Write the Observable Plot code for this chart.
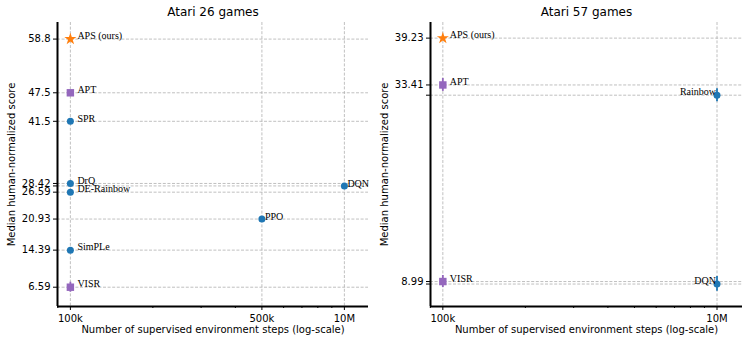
<!DOCTYPE html>
<html>
<head>
<meta charset="utf-8">
<script src="https://cdn.jsdelivr.net/npm/d3@7"></script>
<script src="https://cdn.jsdelivr.net/npm/@observablehq/plot@0.6"></script>
<style>
  body { margin: 0; background: #fff; }
  #wrap { display: flex; width: 748px; height: 344px; }
  #wrap svg { display: block; }
</style>
</head>
<body>
<div id="wrap"></div>
<script>
// ---------- Data: Atari 26 games ----------
const methods26 = ["APS (ours)", "APT", "SPR", "DrQ", "DE-Rainbow", "DQN", "PPO", "SimPLe", "VISR"];
const groups26  = ["ours", "unsup", "sup", "sup", "sup", "sup", "sup", "sup", "unsup"];
const steps26   = [1e5, 1e5, 1e5, 1e5, 1e5, 1e6, 5e5, 1e5, 1e5];
const scores26  = [58.8, 47.5, 41.5, 28.42, 26.59, 27.9, 20.93, 14.39, 6.59];
const errLo26   = [0, 0.4, 0, 0, 0, 0, 0, 0, 1.05];
const errHi26   = [0, 0.4, 0, 0, 0, 0, 0, 0, 1.05];
const yTickLabels26 = ["58.8", "47.5", "41.5", "28.42", "26.59", "20.93", "14.39", "6.59"];
const xTicks26 = [1e5, 5e5, 1e6];
const xTickLabels26 = ["100k", "500k", "10M"];
const xMinor26 = [9e4, 2e5, 3e5, 4e5, 6e5, 7e5, 8e5, 9e5];

// ---------- Data: Atari 57 games ----------
const methods57 = ["APS (ours)", "APT", "Rainbow", "VISR", "DQN"];
const groups57  = ["ours", "unsup", "sup", "unsup", "sup"];
const steps57   = [1e5, 1e5, 1e6, 1e5, 1e6];
const scores57  = [39.23, 33.41, 32.14, 8.99, 8.68];
const errLo57   = [0, 0.8, 0.8, 0.75, 0.9];
const errHi57   = [0, 0.8, 0.8, 0.75, 0.95];
const yTickLabels57 = ["39.23", "33.41", "8.99"];
const xTicks57 = [1e5, 1e6];
const xTickLabels57 = ["100k", "10M"];
const xMinor57 = [9e4, 2e5, 3e5, 4e5, 5e5, 6e5, 7e5, 8e5, 9e5];

// ---------- Styles ----------
const groupColor = { ours: "#ff7f0e", unsup: "#9467bd", sup: "#1f77b4" };
const gridStyle = { stroke: "#b0b0b0", strokeWidth: 0.8, strokeDasharray: "3,1.6" };
const serif = "'Liberation Serif', 'Times New Roman', serif";
const sans = "'DejaVu Sans', sans-serif";

function rows(methods, groups, steps, scores, lo, hi) {
  return methods.map((m, i) => ({
    method: m, group: groups[i], steps: steps[i], score: scores[i], lo: lo[i], hi: hi[i]
  }));
}

function panel(cfg) {
  const data = cfg.data;
  const atBase = data.filter(d => d.steps === 1e5);
  const far = data.filter(d => d.steps !== 1e5);
  const labelSet = new Set(cfg.yLabels);
  const xLabelMap = new Map(cfg.xTicks.map((t, i) => [t, cfg.xLabels[i]]));
  const farText = cfg.farLeft
    ? Plot.text(far, { x: "steps", y: "score", text: "method", textAnchor: "end", dx: -1, dy: -3,
        fontFamily: serif, fontSize: 10, fill: "black" })
    : Plot.text(far, { x: "steps", y: "score", text: "method", textAnchor: "start", dx: 3, dy: -2.5,
        fontFamily: serif, fontSize: 10, fill: "black" });
  return Plot.plot({
    width: 374,
    height: 344,
    marginLeft: cfg.marginLeft,
    marginRight: cfg.marginRight,
    marginTop: 22,
    marginBottom: 38,
    style: { fontFamily: sans, fontSize: "10px", color: "black", background: "white" },
    x: { type: "log", domain: cfg.xDomain },
    y: { domain: cfg.yDomain },
    marks: [
      // grid
      Plot.ruleY(data.map(d => d.score), gridStyle),
      Plot.ruleX(cfg.xTicks, gridStyle),
      // axes
      Plot.axisY({ ticks: data.map(d => d.score), tickSize: 4, tickPadding: 3, fontSize: 10,
        tickFormat: d => labelSet.has(String(d)) ? String(d) : "", label: null }),
      Plot.axisX({ ticks: cfg.xTicks, tickSize: 4, tickPadding: 4, fontSize: 10,
        tickFormat: d => xLabelMap.get(d) ?? "", label: null }),
      Plot.axisX({ ticks: cfg.xMinor, tickSize: 2, tickFormat: () => "", label: null }),
      // spines
      Plot.ruleX([cfg.xDomain[0]], { stroke: "black", strokeWidth: 2 }),
      Plot.ruleY([cfg.yDomain[0]], { stroke: "black", strokeWidth: 2 }),
      // error bars
      Plot.ruleX(data.filter(d => d.lo > 0 || d.hi > 0), {
        x: "steps", y1: d => d.score - d.lo, y2: d => d.score + d.hi,
        stroke: d => groupColor[d.group], strokeWidth: 1.8
      }),
      // markers
      Plot.dot(data.filter(d => d.group === "sup"), { x: "steps", y: "score", r: 3.5,
        fill: groupColor.sup, stroke: "none", symbol: "circle" }),
      Plot.dot(data.filter(d => d.group === "unsup"), { x: "steps", y: "score", r: 4.2,
        fill: groupColor.unsup, stroke: "none", symbol: "square" }),
      Plot.dot(data.filter(d => d.group === "ours"), { x: "steps", y: "score", r: 3.8,
        fill: groupColor.ours, stroke: "none", symbol: "star" }),
      // point labels
      Plot.text(atBase, { x: "steps", y: "score", text: "method", textAnchor: "start", dx: 7, dy: -3,
        fontFamily: serif, fontSize: 10, fill: "black" }),
      farText,
      // title
      Plot.text([cfg.title], { frameAnchor: "top", lineAnchor: "middle", dy: -10, fontSize: 12,
        fill: "black", fontFamily: sans }),
      // axis titles
      Plot.text(["Median human-normalized score"], { frameAnchor: "left", textAnchor: "middle",
        lineAnchor: "middle", rotate: -90, dx: -46, fontSize: 10, fill: "black", fontFamily: sans }),
      Plot.text(["Number of supervised environment steps (log-scale)"], { frameAnchor: "bottom",
        lineAnchor: "middle", dy: 23, fontSize: 10, fill: "black", fontFamily: sans })
    ]
  });
}

const wrap = document.getElementById("wrap");
wrap.appendChild(panel({
  title: "Atari 26 games",
  data: rows(methods26, groups26, steps26, scores26, errLo26, errHi26),
  yLabels: yTickLabels26,
  xTicks: xTicks26, xLabels: xTickLabels26, xMinor: xMinor26,
  xDomain: [1e5 * Math.pow(10, -0.047), 1e5 * Math.pow(10, 1.088)],
  yDomain: [2.53, 62.29],
  marginLeft: 57, marginRight: 6,
  farLeft: false
}));
wrap.appendChild(panel({
  title: "Atari 57 games",
  data: rows(methods57, groups57, steps57, scores57, errLo57, errHi57),
  yLabels: yTickLabels57,
  xTicks: xTicks57, xLabels: xTickLabels57, xMinor: xMinor57,
  xDomain: [1e5 * Math.pow(10, -0.045), 1e5 * Math.pow(10, 1.093)],
  yDomain: [5.89, 41.17],
  marginLeft: 56, marginRight: 6,
  farLeft: true
}));
</script>
</body>
</html>
